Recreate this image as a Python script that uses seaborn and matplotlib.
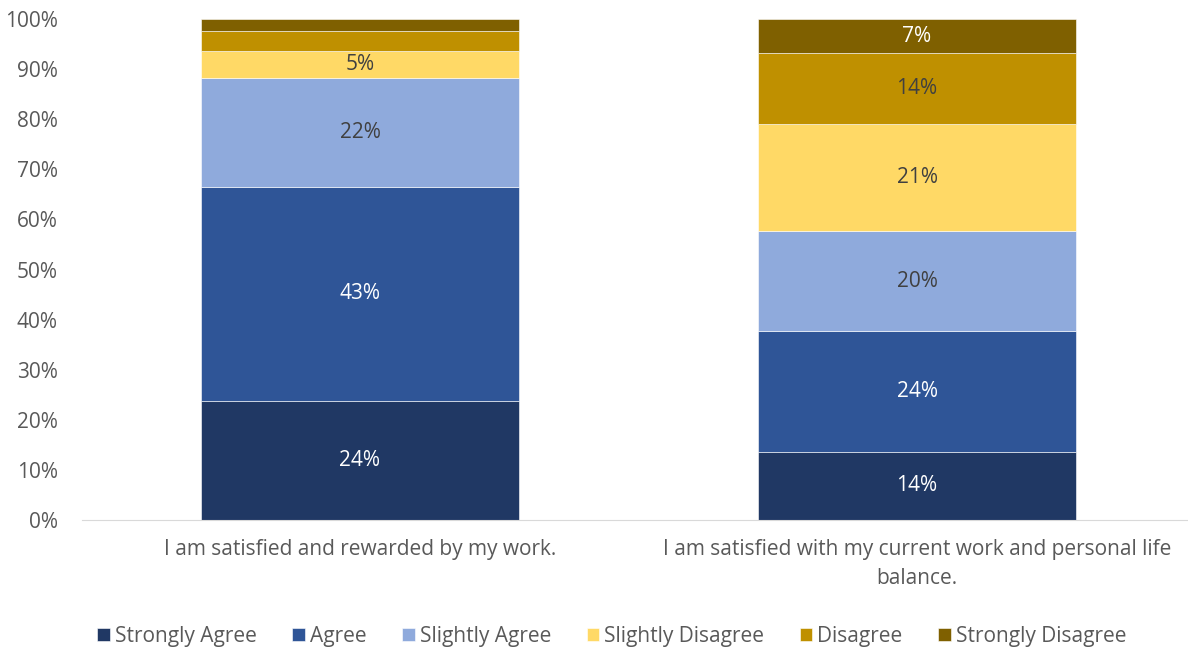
import matplotlib
matplotlib.use('Agg')
import matplotlib.pyplot as plt
import seaborn as sns
import pandas as pd
import numpy as np

questions = ['I am satisfied and rewarded by my work.',
             'I am satisfied with my current work and personal life\nbalance.']
responses = ['Strongly Agree', 'Agree', 'Slightly Agree',
             'Slightly Disagree', 'Disagree', 'Strongly Disagree']
colors = ['#203864', '#2F5597', '#8FAADC', '#FFD966', '#BF9000', '#7F6000']
label_colors = ['white', 'white', '#404040', '#404040', '#404040', 'white']

work_reward = [23.8, 42.7, 21.8, 5.4, 3.9, 2.4]
work_life = [13.6, 24.1, 20.0, 21.4, 14.1, 6.8]

df = pd.DataFrame({'Strongly Agree': [work_reward[0], work_life[0]],
                   'Agree': [work_reward[1], work_life[1]],
                   'Slightly Agree': [work_reward[2], work_life[2]],
                   'Slightly Disagree': [work_reward[3], work_life[3]],
                   'Disagree': [work_reward[4], work_life[4]],
                   'Strongly Disagree': [work_reward[5], work_life[5]]},
                  index=questions)

sns.set_style('white')
plt.rcParams['font.family'] = ['Open Sans', 'DejaVu Sans']
fs = 15

fig = plt.figure(figsize=(11.88, 6.48), dpi=100)
ax = fig.add_axes([81.5 / 1188, 1 - 520 / 648, 1114 / 1188, 501 / 648])

bottom = np.zeros(len(questions))
for i, r in enumerate(responses):
    vals = df[r].values
    sns.barplot(x=list(range(len(questions))), y=vals, bottom=bottom, color=colors[i],
                saturation=1, width=0.571, edgecolor='white', linewidth=0.4, label=r,
                ax=ax, native_scale=True)
    for j, v in enumerate(vals):
        if v >= 5:
            ax.text(j, bottom[j] + v / 2, '%d%%' % round(v), ha='center', va='center',
                    color=label_colors[i], fontsize=fs)
    bottom = bottom + vals

ax.set_xlim(-0.5, 1.5)
ax.set_ylim(0, 100)
ax.set_yticks(range(0, 101, 10))
ax.set_yticklabels(['%d%%' % t for t in range(0, 101, 10)])
ax.set_xticks([0, 1])
ax.set_xticklabels(questions, linespacing=1.5)
ax.tick_params(axis='both', colors='#595959', labelsize=fs, length=0)
ax.tick_params(axis='x', pad=14)
ax.tick_params(axis='y', pad=17)
for s in ['top', 'right', 'left']:
    ax.spines[s].set_visible(False)
ax.spines['bottom'].set_color('#D9D9D9')
ax.set_xlabel('')
ax.set_ylabel('')

ax.legend(loc='center', bbox_to_anchor=(0.476, -0.232), ncol=6, frameon=False,
          fontsize=fs, labelcolor='#595959', handlelength=0.6, handleheight=0.6,
          handletextpad=0.25, columnspacing=1.7)

fig.savefig('out.png', dpi=100)
